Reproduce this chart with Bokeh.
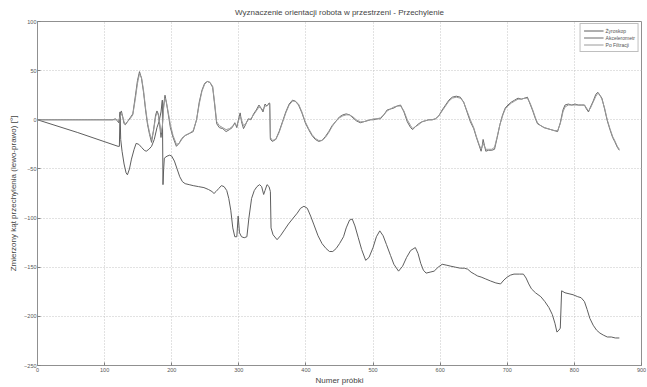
from bokeh.plotting import figure
from bokeh.models import Range1d, FixedTicker, Legend, LegendItem, Title
from bokeh.embed import file_html
from bokeh.resources import INLINE

title_text = "Wyznaczenie orientacji robota w przestrzeni - Przechylenie"
x_label = "Numer próbki"
y_label = "Zmierzony kąt przechylenia (lewo-prawo) [°]"
series_names = ["Żyroskop", "Akcelerometr", "Po Filtracji"]
x_ticks = [0, 100, 200, 300, 400, 500, 600, 700, 800, 900]
y_ticks = [-250, -200, -150, -100, -50, 0, 50, 100]

# Żyroskop (gyroscope)
gyro_x = [0, 60, 120, 122, 123, 124, 126, 129, 132, 134, 137, 140, 144, 147, 151, 155, 159, 162, 166, 170,
          174, 178, 181, 184, 186, 187, 188, 189, 193, 197, 200, 204, 208, 212, 216, 220, 226, 232, 240, 248,
          255, 260, 263, 266, 270, 274, 278, 282, 285, 288, 291, 294, 297, 299, 301, 304, 308, 312, 315, 319,
          323, 327, 331, 334, 337, 339, 342, 345, 347, 348, 351, 357, 362, 368, 374, 381, 387, 392, 397, 402,
          407, 412, 418, 424, 430, 435, 440, 445, 450, 456, 460, 465, 469, 473, 478, 483, 489, 494, 500, 505,
          510, 515, 520, 526, 531, 538, 544, 550, 556, 563, 567, 571, 575, 579, 585, 591, 597, 603, 610, 616,
          623, 630, 636, 641, 646, 651, 656, 661, 668, 675, 683, 690, 695, 700, 705, 710, 718, 724, 728, 732,
          736, 742, 750, 756, 762, 767, 771, 774, 777, 779, 781, 786, 792, 798, 805, 810, 815, 819, 823, 828,
          833, 838, 843, 849, 855, 861, 867]
gyro_y = [0, -13, -27, -27, 8, -20, -32, -45, -54, -56, -50, -40, -30, -24, -25, -28, -31, -32, -30, -27,
          -20, -8, -2, 8, 20, -66, -50, -39, -37, -36, -37, -42, -50, -58, -63, -65, -66, -67, -68, -69,
          -71, -73, -75, -73, -70, -67, -68, -72, -80, -92, -110, -119, -119, -98, -115, -119, -120, -119, -100, -80,
          -72, -68, -66, -68, -76, -72, -66, -68, -73, -110, -117, -122, -118, -112, -106, -100, -95, -90, -88, -90,
          -98, -107, -118, -126, -131, -134, -134, -131, -126, -119, -110, -102, -101, -108, -120, -132, -143, -140, -130, -119,
          -113, -118, -127, -138, -147, -154, -149, -140, -133, -130, -136, -146, -153, -156, -155, -154, -150, -147, -148, -149,
          -150, -151, -151, -152, -155, -157, -159, -160, -162, -164, -166, -167, -163, -160, -158, -157, -157, -157, -161, -167,
          -172, -176, -180, -185, -191, -198, -207, -216, -214, -212, -174, -176, -177, -178, -180, -181, -185, -193, -202, -209,
          -214, -217, -219, -221, -221, -222, -222]

# Akcelerometr (accelerometer)
acc_x = [0, 112, 116, 119, 121, 123, 125, 127, 129, 131, 134, 138, 142, 146, 149, 152, 155, 158, 161, 164,
         167, 170, 173, 176, 178, 180, 182, 184, 186, 188, 190, 192, 195, 198, 202, 207, 211, 215, 220, 226,
         232, 237, 241, 245, 249, 253, 257, 261, 264, 267, 271, 276, 281, 286, 290, 294, 297, 300, 302, 304,
         307, 310, 314, 318, 322, 326, 330, 333, 336, 339, 342, 345, 346, 347, 350, 355, 360, 365, 370, 375,
         380, 384, 389, 394, 399, 404, 409, 414, 419, 424, 429, 434, 439, 444, 450, 455, 460, 465, 470, 475,
         481, 486, 491, 496, 501, 506, 511, 516, 521, 526, 531, 536, 541, 546, 551, 556, 559, 563, 568, 573,
         578, 583, 588, 593, 598, 603, 608, 613, 618, 624, 630, 635, 640, 645, 650, 654, 658, 661, 663, 664,
         666, 668, 672, 677, 681, 685, 689, 693, 697, 701, 706, 711, 716, 721, 726, 730, 734, 738, 742, 745,
         750, 755, 760, 765, 770, 775, 779, 783, 786, 791, 796, 801, 806, 811, 815, 818, 821, 824, 828, 832,
         835, 838, 841, 845, 849, 853, 857, 860, 864, 867]
acc_y = [0, 0, 1, -1, -3, 6, 9, 3, -4, -5, -2, 2, 6, 25, 40, 49, 42, 28, 10, -5,
         -15, -23, -10, 5, 9, 6, -5, -18, -8, 15, 25, 18, 5, -8, -18, -27, -24, -19, -16, -14,
         -12, 0, 18, 30, 37, 39, 38, 33, 15, -4, -8, -9, -12, -10, -8, -3, -8, 2, 7, -2,
         -9, -5, 1, 0, 6, 10, 15, 12, 8, 16, 14, 17, 17, -20, -22, -20, -12, -2, 8, 16,
         20, 19, 15, 7, -3, -10, -16, -20, -22, -21, -17, -12, -6, -2, 3, 5, 6, 5, 2, -1,
         -3, -2, -1, 0, 0, 1, 1, 5, 10, 11, 12, 14, 15, 8, -2, -8, -10, -7, -4, -2,
         -1, 0, 0, 1, 4, 10, 15, 20, 23, 24, 23, 18, 8, -2, -9, -18, -26, -32, -25, -20,
         -26, -32, -31, -31, -30, -18, -5, 5, 12, 15, 18, 20, 22, 21, 22, 23, 16, 9, 1, -4,
         -6, -8, -9, -10, -11, -12, -3, 10, 15, 16, 15, 16, 15, 15, 15, 11, 8, 13, 19, 26,
         28, 25, 22, 11, -1, -10, -18, -22, -28, -31]

# Po Filtracji (filtered)
filt_x = acc_x
filt_y = [0, 0, 0, 0, -1, 3, 6, 3, -2, -4, -2, 1, 5, 22, 37, 47, 43, 30, 12, -3,
          -13, -20, -11, 3, 7, 5, -3, -13, -7, 12, 22, 18, 7, -5, -16, -25, -24, -20, -16, -14,
          -11, 0, 16, 29, 36, 39, 38, 34, 17, -2, -6, -8, -10, -9, -7, -4, -6, 0, 4, 0,
          -6, -4, 0, 1, 5, 9, 13, 12, 10, 14, 14, 16, 16, -18, -21, -20, -13, -3, 7, 15,
          19, 19, 16, 8, -2, -9, -15, -19, -21, -21, -18, -13, -7, -2, 2, 4, 5, 5, 3, 0,
          -2, -2, -1, 0, 1, 1, 2, 5, 9, 11, 13, 14, 14, 9, 0, -6, -9, -7, -5, -2,
          -1, 0, 0, 1, 4, 9, 14, 19, 22, 23, 22, 18, 9, 0, -8, -17, -25, -30, -27, -24,
          -27, -30, -30, -30, -28, -17, -5, 4, 11, 14, 17, 19, 21, 21, 22, 22, 17, 10, 2, -3,
          -6, -8, -9, -10, -11, -11, -4, 8, 13, 15, 15, 15, 15, 15, 15, 12, 9, 12, 18, 24,
          27, 25, 21, 12, 0, -9, -17, -21, -27, -30]

p = figure(width=647, height=387, output_backend="svg", toolbar_location=None,
           x_range=Range1d(0, 900), y_range=Range1d(-250, 100),
           min_border_left=37, min_border_right=6, min_border_bottom=21, min_border_top=5)
p.background_fill_color = "white"
p.border_fill_color = "white"
p.outline_line_color = "#909090"
p.outline_line_width = 1

p.title = None
p.add_layout(Title(text=title_text, align="center", text_font="Liberation Sans",
                   text_font_size="8px", text_font_style="normal", text_color="#444444",
                   standoff=10, offset=0), "above")

for ax, ticks in ((p.xaxis, x_ticks), (p.yaxis, y_ticks)):
    ax.ticker = FixedTicker(ticks=ticks)
    ax.axis_line_color = "#909090"
    ax.major_tick_line_color = "#808080"
    ax.major_tick_in = 3
    ax.major_tick_out = 0
    ax.minor_tick_line_color = None
    ax.major_label_text_font = "Liberation Sans"
    ax.major_label_text_font_size = "5.5px"
    ax.major_label_text_color = "#555555"
    ax.major_label_standoff = 1
    ax.axis_label_text_font = "Liberation Sans"
    ax.axis_label_text_font_size = "8px"
    ax.axis_label_text_font_style = "normal"
    ax.axis_label_text_color = "#444444"
    ax.axis_label_standoff = 3

p.xaxis.major_label_standoff = 2
p.xaxis.axis_label_standoff = 1
p.xaxis.axis_label = x_label
p.yaxis.axis_label = y_label

p.grid.grid_line_color = "#c4c4c4"
p.grid.grid_line_dash = "1 2"
p.grid.grid_line_width = 1
p.xgrid.ticker = FixedTicker(ticks=x_ticks)
p.ygrid.ticker = FixedTicker(ticks=y_ticks)

r_gyro = p.line(gyro_x, gyro_y, line_color="#5e5e5e", line_width=1.0)
r_acc = p.line(acc_x, acc_y, line_color="#6a6a6a", line_width=1.0)
r_filt = p.line(filt_x, filt_y, line_color="#9a9a9a", line_width=1.0)

legend = Legend(items=[LegendItem(label=series_names[0], renderers=[r_gyro]),
                       LegendItem(label=series_names[1], renderers=[r_acc]),
                       LegendItem(label=series_names[2], renderers=[r_filt])],
                location="top_right")
legend.label_text_font = "Liberation Sans"
legend.label_text_font_size = "5px"
legend.label_text_color = "#555555"
legend.glyph_width = 20
legend.glyph_height = 7
legend.label_height = 7
legend.label_standoff = 2
legend.spacing = 0
legend.padding = 3
legend.margin = 2
legend.border_line_color = "#808080"
legend.border_line_width = 1
legend.background_fill_color = "white"
legend.background_fill_alpha = 1
p.add_layout(legend)

open("out.html", "w").write(file_html(p, INLINE))
